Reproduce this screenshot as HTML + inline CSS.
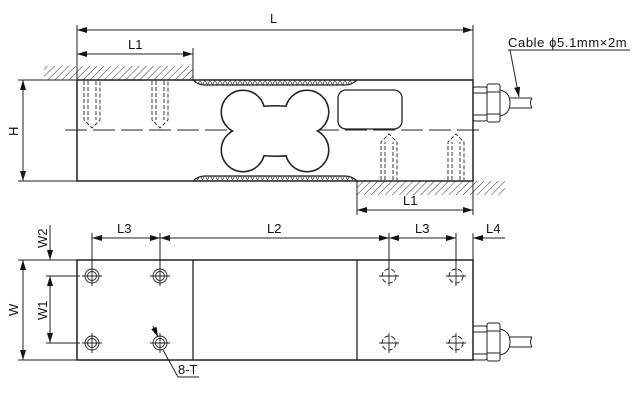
<!DOCTYPE html>
<html><head><style>body{margin:0;background:#fff}svg{display:block}text{font-family:"Liberation Sans",sans-serif;fill:#111}</style></head><body>
<svg width="640" height="400" viewBox="0 0 640 400" xmlns="http://www.w3.org/2000/svg">
<defs>
<pattern id="h" width="5" height="5" patternUnits="userSpaceOnUse" patternTransform="rotate(45)"><line x1="0" y1="0" x2="0" y2="5" stroke="#333" stroke-width="1"/></pattern>
<pattern id="x" width="5" height="5" patternUnits="userSpaceOnUse"><path d="M0,0L2.5,5L5,0" fill="none" stroke="#333" stroke-width="0.7"/></pattern>
<marker id="a" markerWidth="10" markerHeight="6" refX="10" refY="3" orient="auto" markerUnits="userSpaceOnUse"><path d="M0,0L10,3L0,6z" fill="#111"/></marker>
</defs>
<g stroke="#222" fill="none" stroke-width="1">
<rect x="44" y="66" width="149" height="14" fill="url(#h)" stroke="none"/>
<line x1="44" y1="80" x2="193" y2="80"/>
<rect x="357" y="181" width="148" height="14" fill="url(#h)" stroke="none"/>
<rect x="77" y="80" width="396" height="101" stroke-width="1.5"/>
<path d="M193,80 Q198,85 205,85 L345,85 Q352,85 357,80" fill="url(#x)" stroke-width="1.2"/>
<path d="M193,181 Q198,176 205,176 L345,176 Q352,176 357,181" fill="url(#x)" stroke-width="1.2"/>
<line x1="77" y1="25" x2="77" y2="80"/><line x1="473" y1="25" x2="473" y2="80"/>
<line x1="77" y1="30" x2="473" y2="30" marker-end="url(#a)"/>
<line x1="473" y1="30" x2="77" y2="30" marker-end="url(#a)"/>
<line x1="193" y1="48" x2="193" y2="80"/>
<line x1="77" y1="54" x2="193" y2="54" marker-end="url(#a)"/>
<line x1="193" y1="54" x2="77" y2="54" marker-end="url(#a)"/>
<line x1="18" y1="80" x2="77" y2="80"/><line x1="18" y1="181" x2="77" y2="181"/>
<line x1="23" y1="80" x2="23" y2="181" marker-end="url(#a)"/><line x1="23" y1="181" x2="23" y2="80" marker-end="url(#a)"/>
<line x1="357" y1="181" x2="357" y2="215"/><line x1="473" y1="181" x2="473" y2="215"/>
<line x1="357" y1="210" x2="473" y2="210" marker-end="url(#a)"/><line x1="473" y1="210" x2="357" y2="210" marker-end="url(#a)"/>
<line x1="65" y1="130" x2="480" y2="130" stroke-dasharray="22,6"/>
<g stroke-dasharray="4,2" stroke-width="0.9">
<path d="M84,81V120L92,128L100,120V81M88,81V120M96,81V120"/>
<path d="M152,81V120L160,128L168,120V81M156,81V120M164,81V120"/>
<path d="M381,180V142L389,134L397,142V180M385,180V142M393,180V142"/>
<path d="M448,180V142L456,134L464,142V180M452,180V142M460,180V142"/>
</g>
<g stroke="#222" stroke-width="3" fill="#222">
<circle cx="243" cy="112" r="21"/><circle cx="307" cy="112" r="21"/><circle cx="243" cy="150" r="21"/><circle cx="307" cy="150" r="21"/><path d="M243,110 Q275,103 307,110 L307,152 Q275,159 243,152Z"/>
</g>
<g fill="#fff" stroke="none">
<circle cx="243" cy="112" r="21"/><circle cx="307" cy="112" r="21"/><circle cx="243" cy="150" r="21"/><circle cx="307" cy="150" r="21"/><path d="M243,110 Q275,103 307,110 L307,152 Q275,159 243,152Z"/>
</g>
<rect x="338" y="90" width="64" height="39" rx="8" stroke-width="1.3"/>
<rect x="473" y="87" width="14" height="34" rx="2"/><rect x="487" y="84" width="13" height="38" rx="2"/>
<line x1="473" y1="93" x2="487" y2="93"/><line x1="473" y1="115" x2="487" y2="115"/>
<line x1="487" y1="92" x2="500" y2="92"/><line x1="487" y1="114" x2="500" y2="114"/>
<path d="M500,90 Q510,92 510,103 Q510,114 500,116"/>
<path d="M510,98H532M510,108H532M532,98Q529,103 532,108"/>
<line x1="508" y1="50" x2="630" y2="50"/>
<line x1="510" y1="50" x2="519" y2="97" marker-end="url(#a)"/>
<rect x="77" y="260" width="396" height="100" stroke-width="1.5"/>
<line x1="193" y1="260" x2="193" y2="360" stroke-width="1.3"/><line x1="357" y1="260" x2="357" y2="360" stroke-width="1.3"/>
<line x1="92" y1="233" x2="92" y2="270"/><line x1="160" y1="233" x2="160" y2="270"/><line x1="389" y1="233" x2="389" y2="270"/><line x1="456" y1="233" x2="456" y2="270"/><line x1="473" y1="233" x2="473" y2="260"/>
<line x1="160" y1="238" x2="92" y2="238" marker-end="url(#a)"/><line x1="92" y1="238" x2="160" y2="238" marker-end="url(#a)"/>
<line x1="389" y1="238" x2="160" y2="238" marker-end="url(#a)"/><line x1="160" y1="238" x2="389" y2="238" marker-end="url(#a)"/>
<line x1="456" y1="238" x2="389" y2="238" marker-end="url(#a)"/><line x1="389" y1="238" x2="456" y2="238" marker-end="url(#a)"/>
<line x1="505" y1="238" x2="473" y2="238" marker-end="url(#a)"/>
<line x1="18" y1="260" x2="77" y2="260"/><line x1="18" y1="360" x2="77" y2="360"/>
<line x1="23" y1="260" x2="23" y2="360" marker-end="url(#a)"/><line x1="23" y1="360" x2="23" y2="260" marker-end="url(#a)"/>
<line x1="46" y1="276" x2="80" y2="276"/><line x1="46" y1="343" x2="80" y2="343"/>
<line x1="50" y1="225" x2="50" y2="260" marker-end="url(#a)"/>
<line x1="50" y1="276" x2="50" y2="343" marker-end="url(#a)"/><line x1="50" y1="343" x2="50" y2="276" marker-end="url(#a)"/>
<g stroke-width="0.9">
<circle cx="92" cy="276" r="7"/><circle cx="92" cy="276" r="4.5"/><path d="M82,276H102M92,266V286"/>
<circle cx="160" cy="276" r="7"/><circle cx="160" cy="276" r="4.5"/><path d="M150,276H170M160,266V286"/>
<circle cx="92" cy="343" r="7"/><circle cx="92" cy="343" r="4.5"/><path d="M82,343H102M92,333V353"/>
<circle cx="160" cy="343" r="7"/><circle cx="160" cy="343" r="4.5"/><path d="M150,343H170M160,333V353"/>
</g>
<g stroke-width="0.9" stroke-dasharray="5,2">
<circle cx="389" cy="276" r="7"/><circle cx="456" cy="276" r="7"/><circle cx="389" cy="343" r="7"/><circle cx="456" cy="343" r="7"/>
</g>
<g stroke-width="0.9"><path d="M379,276H399M389,266V286M446,276H466M456,266V286M379,343H399M389,333V353M446,343H466M456,333V353"/></g>
<line x1="153" y1="326" x2="158" y2="337" marker-end="url(#a)"/>
<path d="M163,350L178,377H199"/>
<rect x="473" y="326" width="14" height="34" rx="2"/><rect x="487" y="323" width="13" height="38" rx="2"/>
<line x1="473" y1="332" x2="487" y2="332"/><line x1="473" y1="354" x2="487" y2="354"/>
<line x1="487" y1="331" x2="500" y2="331"/><line x1="487" y1="353" x2="500" y2="353"/>
<path d="M500,329 Q510,331 510,342 Q510,353 500,355"/>
<path d="M510,337H532M510,347H532M532,337Q529,342 532,347"/>
</g>
<g font-size="13">
<text x="270" y="23">L</text>
<text x="128" y="49">L1</text>
<text x="403" y="205">L1</text>
<text x="508" y="47" letter-spacing="0.6">Cable &#981;5.1mm&#215;2m</text>
<text x="117" y="233">L3</text>
<text x="267" y="233">L2</text>
<text x="415" y="233">L3</text>
<text x="486" y="233">L4</text>
<text x="178" y="374">8-T</text>
<text transform="translate(18,136) rotate(-90)">H</text>
<text transform="translate(18,316) rotate(-90)">W</text>
<text transform="translate(47,320) rotate(-90)">W1</text>
<text transform="translate(47,248) rotate(-90)">W2</text>
</g>
</svg>
</body></html>
